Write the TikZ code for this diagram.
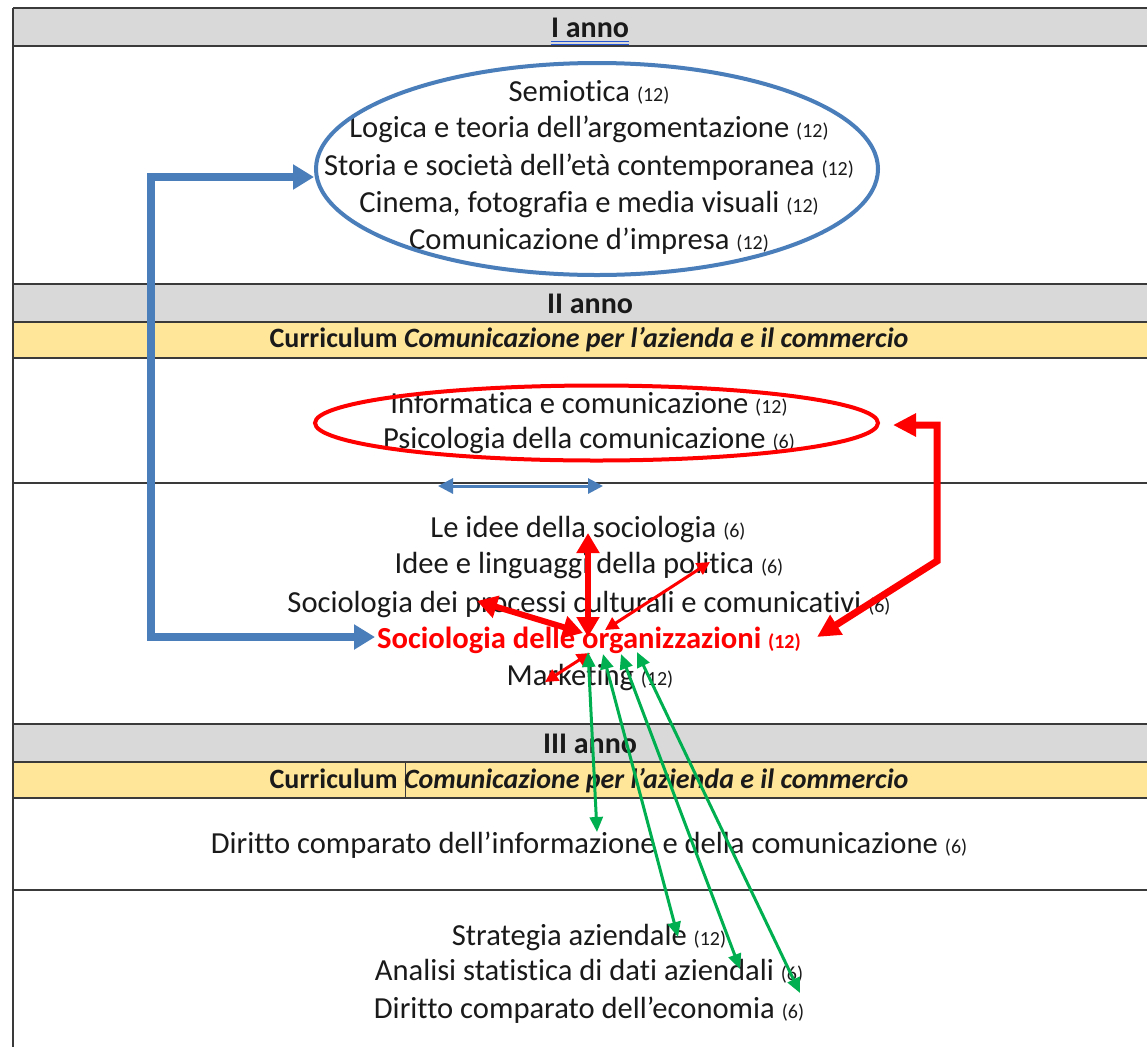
\documentclass[tikz,border=0pt]{standalone}
\usepackage{fontspec}
\setmainfont{Carlito}[Ligatures=NoCommon]
\usetikzlibrary{arrows.meta,shapes.geometric}
\definecolor{hdrgray}{HTML}{D9D9D9}
\definecolor{curyel}{HTML}{FFE699}
\definecolor{blu}{HTML}{4A7EBB}
\definecolor{grn}{HTML}{00B050}
\definecolor{txt}{HTML}{1A1A1A}
\definecolor{tln}{HTML}{3A3A3A}
\definecolor{ulblue}{HTML}{2456D6}
\newcommand\crd[1]{{\fontsize{20}{20}\selectfont #1}}
\begin{document}
\begin{tikzpicture}[x=1pt,y=-1pt,
  course/.style={font=\fontsize{30.6}{36}\selectfont, text=txt, inner sep=0pt, anchor=base},
  hdr/.style={font=\fontsize{30}{36}\selectfont\bfseries, text=txt, inner sep=0pt, anchor=base},
  curr/.style={font=\fontsize{28}{32}\selectfont\bfseries, text=txt, inner sep=0pt, anchor=base},
  tline/.style={draw=tln, line width=2pt},
  oval/.style={ellipse, inner sep=0pt, line width=4pt},
  bluconn/.style={draw=blu, line width=8pt, line join=miter, {Triangle[length=21pt,width=24pt]}-{Triangle[length=21pt,width=24pt]}},
  redthick/.style={draw=red, line width=6pt, {Triangle[length=20pt,width=22pt]}-{Triangle[length=20pt,width=22pt]}},
  redconn/.style={draw=red, line width=7pt, line join=miter, {Triangle[length=23pt,width=22pt]}-{Triangle[length=23pt,width=22pt]}},
  redthin/.style={draw=red, line width=3pt, {Triangle[length=13pt,width=13pt]}-{Triangle[length=13pt,width=13pt]}},
  grnarr/.style={draw=grn, line width=3pt, {Triangle[length=15pt,width=13pt]}-{Triangle[length=15pt,width=13pt]}},
  bluthin/.style={draw=blu, line width=3pt, {Triangle[length=15pt,width=15pt]}-{Triangle[length=15pt,width=15pt]}}
]
\useasboundingbox (0,0) rectangle (1147,1047);
\fill[white] (0,0) rectangle (1147,1047);
% row fills
\fill[hdrgray] (13,8) rectangle (1147,46);
\fill[hdrgray] (13,284) rectangle (1147,322);
\fill[curyel] (13,322) rectangle (1147,358);
\fill[hdrgray] (13,724) rectangle (1147,762);
\fill[curyel] (13,762) rectangle (1147,798);
% table lines
\foreach \yy in {8,46,284,322,358,483,724,762,798,890}
  \draw[tline] (13,\yy) -- (1147,\yy);
\draw[tline] (13,8) -- (13,1047);
\draw[draw=tln, line width=1pt] (405,763) -- (405,797);

% headers
\node[hdr] (h1) at (590,37) {I anno};
\draw[ulblue, line width=1pt] (h1.south west |- 0,41) -- (h1.south east |- 0,41);
\draw[ulblue, line width=1pt] (h1.south west |- 0,44) -- (h1.south east |- 0,44);
\node[hdr] (h2) at (590,313) {II anno};
\node[curr] (c2) at (589,347) {Curriculum \textit{Comunicazione per l’azienda e il commercio}};
\node[hdr] (h3) at (590,753) {III anno};
\node[curr] (c3) at (589,788) {Curriculum \textit{Comunicazione per l’azienda e il commercio}};

% I anno courses
\node[course] (s1) at (589,101) {Semiotica \crd{(12)}};
\node[course] (s2) at (589,137) {Logica e teoria dell’argomentazione \crd{(12)}};
\node[course] (s3) at (589,175) {Storia e società dell’età contemporanea \crd{(12)}};
\node[course] (s4) at (589,212) {Cinema, fotografia e media visuali \crd{(12)}};
\node[course] (s5) at (589,249) {Comunicazione d’impresa \crd{(12)}};
\node[oval, draw=blu, minimum width=562pt, minimum height=212pt] (ov1) at (597,169) {};

% II anno courses
\node[course] (i1) at (589,413) {Informatica e comunicazione \crd{(12)}};
\node[course] (i2) at (589,448) {Psicologia della comunicazione \crd{(6)}};
\node[oval, draw=red, minimum width=563pt, minimum height=75pt] (ov2) at (596.5,423) {};
\node[course] (l1) at (588,537) {Le idee della sociologia \crd{(6)}};
\node[course] (l2) at (589,573) {Idee e linguaggi della politica \crd{(6)}};
\node[course] (l3) at (589,612) {Sociologia dei processi culturali e comunicativi \crd{(6)}};
\node[course, text=red, font=\fontsize{30.6}{36}\selectfont\bfseries] (so) at (589,648) {Sociologia delle organizzazioni \crd{(12)}};
\node[course] (mk) at (590,685) {Marketing \crd{(12)}};

% III anno courses
\node[course] (d1) at (589,853) {Diritto comparato dell’informazione e della comunicazione \crd{(6)}};
\node[course] (d2) at (589,945) {Strategia aziendale \crd{(12)}};
\node[course] (d3) at (589,980) {Analisi statistica di dati aziendali \crd{(6)}};
\node[course] (d4) at (589,1018) {Diritto comparato dell’economia \crd{(6)}};

% coordinates for connector ends
\coordinate (bk1) at (151,177);
\coordinate (bso) at (375,637);
\coordinate (rso) at (817,637);
\coordinate (rbend) at (937,561);
\coordinate (rtop) at (937,425);
\coordinate (rov) at (893,425);
\coordinate (ba) at (438,486);
\coordinate (bb) at (603,486);
\coordinate (so1) at (588,637);
\coordinate (lt1) at (588,533);
\coordinate (so2) at (583,633);
\coordinate (lt3) at (477,601);
\coordinate (so3) at (605,630);
\coordinate (lt2) at (710,562);
\coordinate (so4) at (590,653);
\coordinate (mk1) at (545,682);
\coordinate (g1a) at (588,652);
\coordinate (g1b) at (597,832);
\coordinate (g2a) at (603,654);
\coordinate (g2b) at (678,937);
\coordinate (g3a) at (621,654);
\coordinate (g3b) at (740,969);
\coordinate (g4a) at (637,652);
\coordinate (g4b) at (800,993);

% connectors
\draw[bluconn] (bso) -| (bk1) -- (bk1 -| ov1.west);
\draw[bluthin] (ba) -- (bb);
\draw[redconn] (rso) -- (rbend) -- (rtop) -- (rov);
\draw[redthick] (so1) -- (lt1);
\draw[redthick] (so2) -- (lt3);
\draw[redthin] (so3) -- (lt2);
\draw[redthin] (so4) -- (mk1);
\draw[grnarr] (g1a) -- (g1b);
\draw[grnarr] (g2a) -- (g2b);
\draw[grnarr] (g3a) -- (g3b);
\draw[grnarr] (g4a) -- (g4b);
\end{tikzpicture}
\end{document}
